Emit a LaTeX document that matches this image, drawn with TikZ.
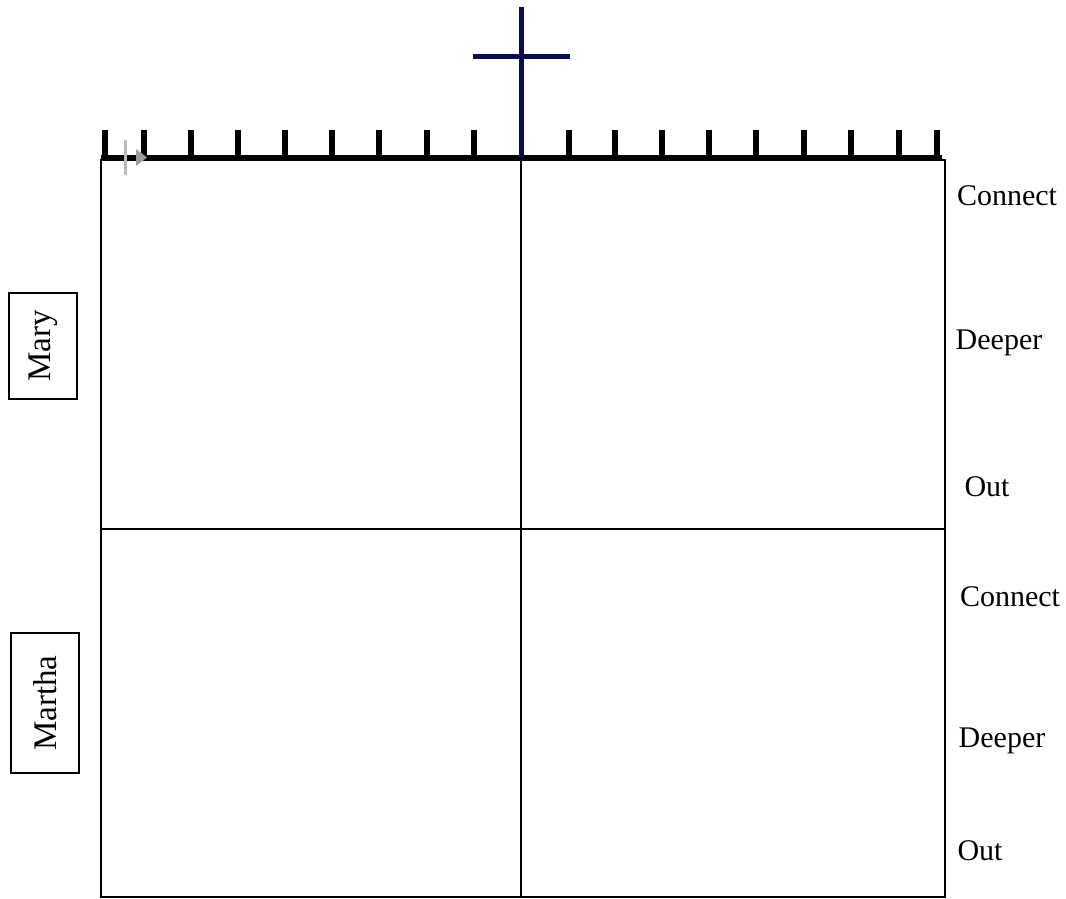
\documentclass[tikz,border=0pt]{standalone}
\usepackage{fontspec}
\setmainfont{Liberation Serif}
\definecolor{crossblue}{RGB}{10,12,80}
\definecolor{faint}{RGB}{185,185,185}
\begin{document}
\begin{tikzpicture}[x=1pt,y=-1pt,
  grid/.style={line width=1.5pt,black},
  ruler/.style={line width=5pt,black},
  tick/.style={line width=5.5pt,black},
  cross/.style={line width=5.5pt,crossblue},
  sidelabel/.style={font=\fontsize{30}{36}\selectfont,inner sep=0pt,anchor=center},
  namebox/.style={draw,line width=1.3pt,rotate=90,font=\fontsize{33}{40}\selectfont,inner sep=0pt,minimum height=68pt}
]
\useasboundingbox (0,0) rectangle (1066,899);
% grid
\coordinate (tl) at (101,160);
\coordinate (br) at (945,897);
\coordinate (vt) at (521,160);
\coordinate (vb) at (521,897);
\coordinate (hl) at (101,529);
\coordinate (hr) at (945,529);
\draw[grid] (tl) rectangle (br);
\draw[grid] (vt) -- (vb);
\draw[grid] (hl) -- (hr);
% ruler
\coordinate (rl) at (101,157.5);
\coordinate (rr) at (942,157.5);
\draw[ruler] (rl) -- (rr);
\foreach \x in {105,144,191,238,285,332,379,427,474,569,615,662,709,756,804,851,899,937}
  \draw[tick] (\x,130) -- (\x,158);
% faint mark
\draw[faint,line width=3pt] (125,140) -- (125,175);
\fill[faint!85!black] (136,149) -- (147,157.5) -- (136,166) -- cycle;
% cross
\coordinate (ct) at (521.5,7);
\coordinate (cb) at (521.5,158);
\coordinate (cl) at (473,56.5);
\coordinate (cr) at (570,56.5);
\draw[cross] (ct) -- (cb);
\draw[cross] (cl) -- (cr);
% right labels
\node[sidelabel] (c1) at (1007,196) {Connect};
\node[sidelabel] (d1) at (999,343) {Deeper};
\node[sidelabel] (o1) at (987,487) {Out};
\node[sidelabel] (c2) at (1010,597) {Connect};
\node[sidelabel] (d2) at (1002,741) {Deeper};
\node[sidelabel] (o2) at (980,851) {Out};
% left name boxes
\node[namebox,minimum width=106pt] (mary) at (43,346) {Mary};
\node[namebox,minimum width=140pt] (martha) at (45,703) {Martha};
\end{tikzpicture}
\end{document}
